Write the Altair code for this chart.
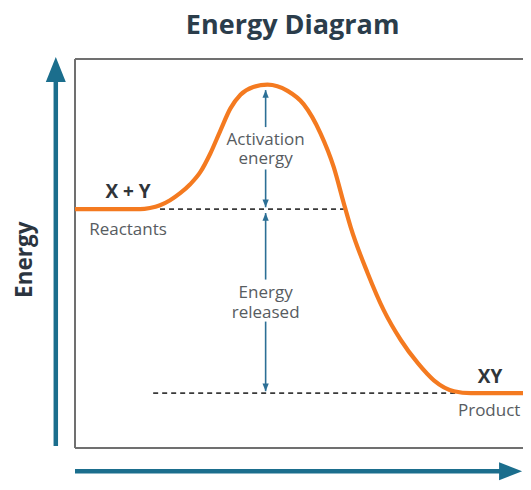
import altair as alt
import pandas as pd

# ---- data (progress 0-100 along the box, energy 0-100 up the box) ----
curve_progress = [0, 14.25, 16.4, 18.6, 20.8, 23.0, 25.2, 27.4, 29.6, 31.8, 34.0, 36.2, 39.0, 42.1,
                  46.5, 50.0, 53.7, 56.6, 58.8, 60.3, 64.0, 67.5, 71.3, 75.0, 78.5, 82.9, 86.6, 100]
curve_energy = [61.4, 61.4, 61.7, 62.4, 63.7, 65.5, 67.8, 70.9, 75.7, 81.6, 87.3, 90.8, 92.8, 93.4,
                91.8, 88.4, 80.9, 72.2, 62.9, 56.8, 45.0, 35.5, 27.7, 21.8, 17.4, 14.6, 14.1, 14.1]

level_names = ["Reactants", "Product"]
level_energy = [61.4, 14.1]
level_dash_start = [18.6, 17.1]
level_dash_end = [58.8, 83.3]

arrow_progress = 41.7
arrow_seg_start = [92.0, 71.6, 60.4, 32.5]
arrow_seg_end = [82.5, 61.9, 43.3, 14.6]
arrow_tip_energy = [92.0, 61.9, 60.4, 14.6]
arrow_tip_dir = ["up", "down", "up", "down"]

label_text = ["X + Y", "Reactants", "XY", "Product", "Activation\nenergy", "Energy\nreleased"]
label_progress = [11.6, 11.6, 90.8, 90.6, 41.7, 41.7]
label_energy = [65.9, 56.0, 18.2, 9.4, 79.2, 39.8]
label_bold = [True, False, True, False, False, False]

title_text = ["Energy Diagram"]
axis_title = ["Energy"]

# ---- tables ----
curve_df = pd.DataFrame({"p": curve_progress, "e": curve_energy})
level_df = pd.DataFrame({"name": level_names, "e": level_energy,
                         "p": level_dash_start, "p2": level_dash_end})
arrow_df = pd.DataFrame({"p": [arrow_progress] * 4, "e": arrow_seg_start, "e2": arrow_seg_end})
tip_df = pd.DataFrame({"p": [arrow_progress] * 4, "e": arrow_tip_energy, "dir": arrow_tip_dir})
label_df = pd.DataFrame({"label": label_text, "p": label_progress, "e": label_energy, "bold": label_bold})

# frame of the diagram (left, top, bottom edges; the right edge lies outside the picture)
box_df = pd.DataFrame({"p": [0, 0, 0], "p2": [0, 110, 110], "e": [0, 100, 0], "e2": [100, 100, 0]})
# teal axis arrows: vertical and horizontal shafts
axis_df = pd.DataFrame({"p": [-4.2, 0], "p2": [-4.2, 94], "e": [0.5, -6.0], "e2": [95, -6.0]})
yhead_df = pd.DataFrame({"p": [-4.2], "e": [100.5]})
xhead_df = pd.DataFrame({"p": [97.8], "e": [-6.0]})
title_df = pd.DataFrame({"label": title_text, "p": [47.6], "e": [108.4]})
ylab_df = pd.DataFrame({"label": axis_title, "p": [-10.9], "e": [48.4]})

XS = alt.Scale(domain=[0, 98], nice=False, zero=False)
YS = alt.Scale(domain=[0, 100], nice=False, zero=False)


def X(field="p"):
    return alt.X(f"{field}:Q", scale=XS, axis=None)


def Y(field="e"):
    return alt.Y(f"{field}:Q", scale=YS, axis=None)


TEAL = "#1b6e8d"
ORANGE = "#f47a20"
BOX = "#707070"
INNER = "#2c6f95"
FONT = "Open Sans"

box = alt.Chart(box_df).mark_rule(color=BOX, strokeWidth=2).encode(
    x=X("p"), x2="p2:Q", y=Y("e"), y2="e2:Q")

axes_arrows = alt.Chart(axis_df).mark_rule(color=TEAL, strokeWidth=4.5).encode(
    x=X("p"), x2="p2:Q", y=Y("e"), y2="e2:Q")
y_head = alt.Chart(yhead_df).mark_point(shape="M0,0L1,2.5L-1,2.5Z", size=400, filled=True,
                                        opacity=1, color=TEAL, strokeWidth=0).encode(
    x=X("p"), y=Y("e"))
x_head = alt.Chart(xhead_df).mark_point(shape="M0,0L-2.3,-0.9L-2.3,0.9Z", size=400, filled=True,
                                        opacity=1, color=TEAL, strokeWidth=0).encode(
    x=X("p"), y=Y("e"))

dashes = alt.Chart(level_df).mark_rule(color="#3a3a3a", strokeWidth=1.6, strokeDash=[5, 4]).encode(
    x=X("p"), x2="p2:Q", y=Y("e"))

curve = alt.Chart(curve_df).mark_line(color=ORANGE, strokeWidth=4.2, interpolate="monotone").encode(
    x=X("p"), y=Y("e"), order="p:Q")

shafts = alt.Chart(arrow_df).mark_rule(color=INNER, strokeWidth=1.6).encode(
    x=X("p"), y=Y("e"), y2="e2:Q")
tips_up = alt.Chart(tip_df).transform_filter("datum.dir == 'up'").mark_point(
    shape="M0,0L0.9,2.2L-0.9,2.2Z", size=49, filled=True, opacity=1, color=INNER, strokeWidth=0
).encode(x=X("p"), y=Y("e"))
tips_down = alt.Chart(tip_df).transform_filter("datum.dir == 'down'").mark_point(
    shape="M0,0L0.9,-2.2L-0.9,-2.2Z", size=49, filled=True, opacity=1, color=INNER, strokeWidth=0
).encode(x=X("p"), y=Y("e"))

bold_labels = alt.Chart(label_df).transform_filter("datum.bold").mark_text(
    font=FONT, fontSize=19, fontWeight="bold", color="#30353a", baseline="middle", align="center"
).encode(x=X("p"), y=Y("e"), text="label:N")
plain_labels = alt.Chart(label_df).transform_filter("!datum.bold").mark_text(
    font=FONT, fontSize=17, color="#575c61", baseline="middle", align="center",
    lineBreak="\n", lineHeight=19.5
).encode(x=X("p"), y=Y("e"), text="label:N")

title = alt.Chart(title_df).mark_text(font=FONT, fontSize=27, fontWeight="bold",
                                      color="#2b3d4b", baseline="middle", align="center").encode(
    x=X("p"), y=Y("e"), text="label:N")
ylabel = alt.Chart(ylab_df).mark_text(font=FONT, fontSize=22.5, fontWeight="bold",
                                      color="#2b3540", baseline="middle", align="center",
                                      angle=270).encode(
    x=X("p"), y=Y("e"), text="label:N")

chart = alt.layer(
    box, dashes, shafts, tips_up, tips_down, curve,
    axes_arrows, y_head, x_head, bold_labels, plain_labels, title, ylabel
).properties(
    width=448, height=389,
    autosize=alt.AutoSizeParams(type="none"),
    padding={"left": 67, "top": 51, "right": 0, "bottom": 34},
    background="white",
).configure_view(stroke=None)

chart.save("out.html", embed_options={"renderer": "svg", "actions": False})
